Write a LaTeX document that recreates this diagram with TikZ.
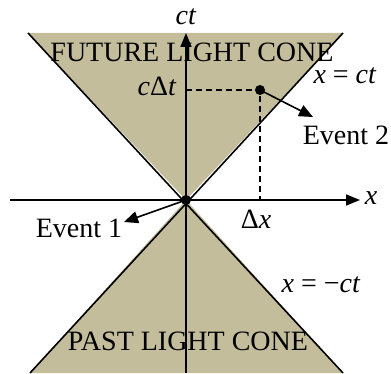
\documentclass[tikz,border=0pt]{standalone}
\usepackage{fontspec}
\setmainfont{Liberation Serif}
\usetikzlibrary{arrows.meta}
\definecolor{Cone}{HTML}{C4BD9B}
\definecolor{Ink}{HTML}{000000}

\begin{document}
\begin{tikzpicture}[x=1pt,y=1pt,font=\fontsize{28}{30}\selectfont,text=Ink,edge/.style={draw=Ink,line width=1.6pt},axis/.style={draw=Ink,line width=1.6pt,-{Triangle[length=14pt,width=11pt]}},guide/.style={draw=Ink,line width=1.7pt,dash pattern=on 6pt off 4pt},pointer/.style={draw=Ink,line width=1.6pt,-{Triangle[length=14pt,width=12pt]}},lbl/.style={inner sep=0pt},dot/.style={circle,fill=Ink,inner sep=0pt,minimum size=10pt}]
\useasboundingbox (0,0) rectangle (391,373);
\coordinate (O) at (186,173);
\coordinate (FL) at (28,340);
\coordinate (FR) at (343,340);
\coordinate (PL) at (30,0);
\coordinate (PR) at (343,0);
\fill[Cone] (O) -- (FL) -- (FR) -- cycle;
\fill[Cone] (O) -- (PL) -- (PR) -- cycle;
\draw[edge] (FL) -- (PR);
\draw[edge] (FR) -- (PL);
\node[lbl] (future) at (192,321){FUTURE LIGHT CONE};
\node[lbl] (past) at (188,32){PAST LIGHT CONE};
% axes
\coordinate (ctlow) at (186,0);
\coordinate (cttip) at (186,340);
\coordinate (xlow) at (10,173);
\coordinate (xtip) at (360,173);
\draw[axis] (ctlow) -- (cttip);
\draw[axis] (xlow) -- (xtip);
\node[lbl] (ctlabel) at (186,356){\textit{ct}};
\node[lbl] (xlabel) at (371,175){\textit{x}};
% events
\node[dot] (ev1) at (O){};
\node[dot] (ev2) at (260,283){};
\coordinate (ctick) at (186,283);
\coordinate (xtick) at (260,173);
\draw[guide] (ctick) -- (ev2.center) -- (xtick);
\node[lbl] (dct) at (157,287){\textit{c}Δ\textit{t}};
\node[lbl] (dx) at (256,154){Δ\textit{x}};
\coordinate (tip2) at (313,256);
\coordinate (tip1) at (124,151);
\draw[pointer] (ev2.center) -- (tip2);
\draw[pointer] (ev1.center) -- (tip1);
\node[lbl] (name2) at (346,238){Event 2};
\node[lbl] (name1) at (79,145){Event 1};
\node[lbl] (plus) at (345,297){\textit{x} = \textit{ct}};
\node[lbl] (minus) at (321,88){\textit{x} = −\textit{ct}};
\end{tikzpicture}
\end{document}
